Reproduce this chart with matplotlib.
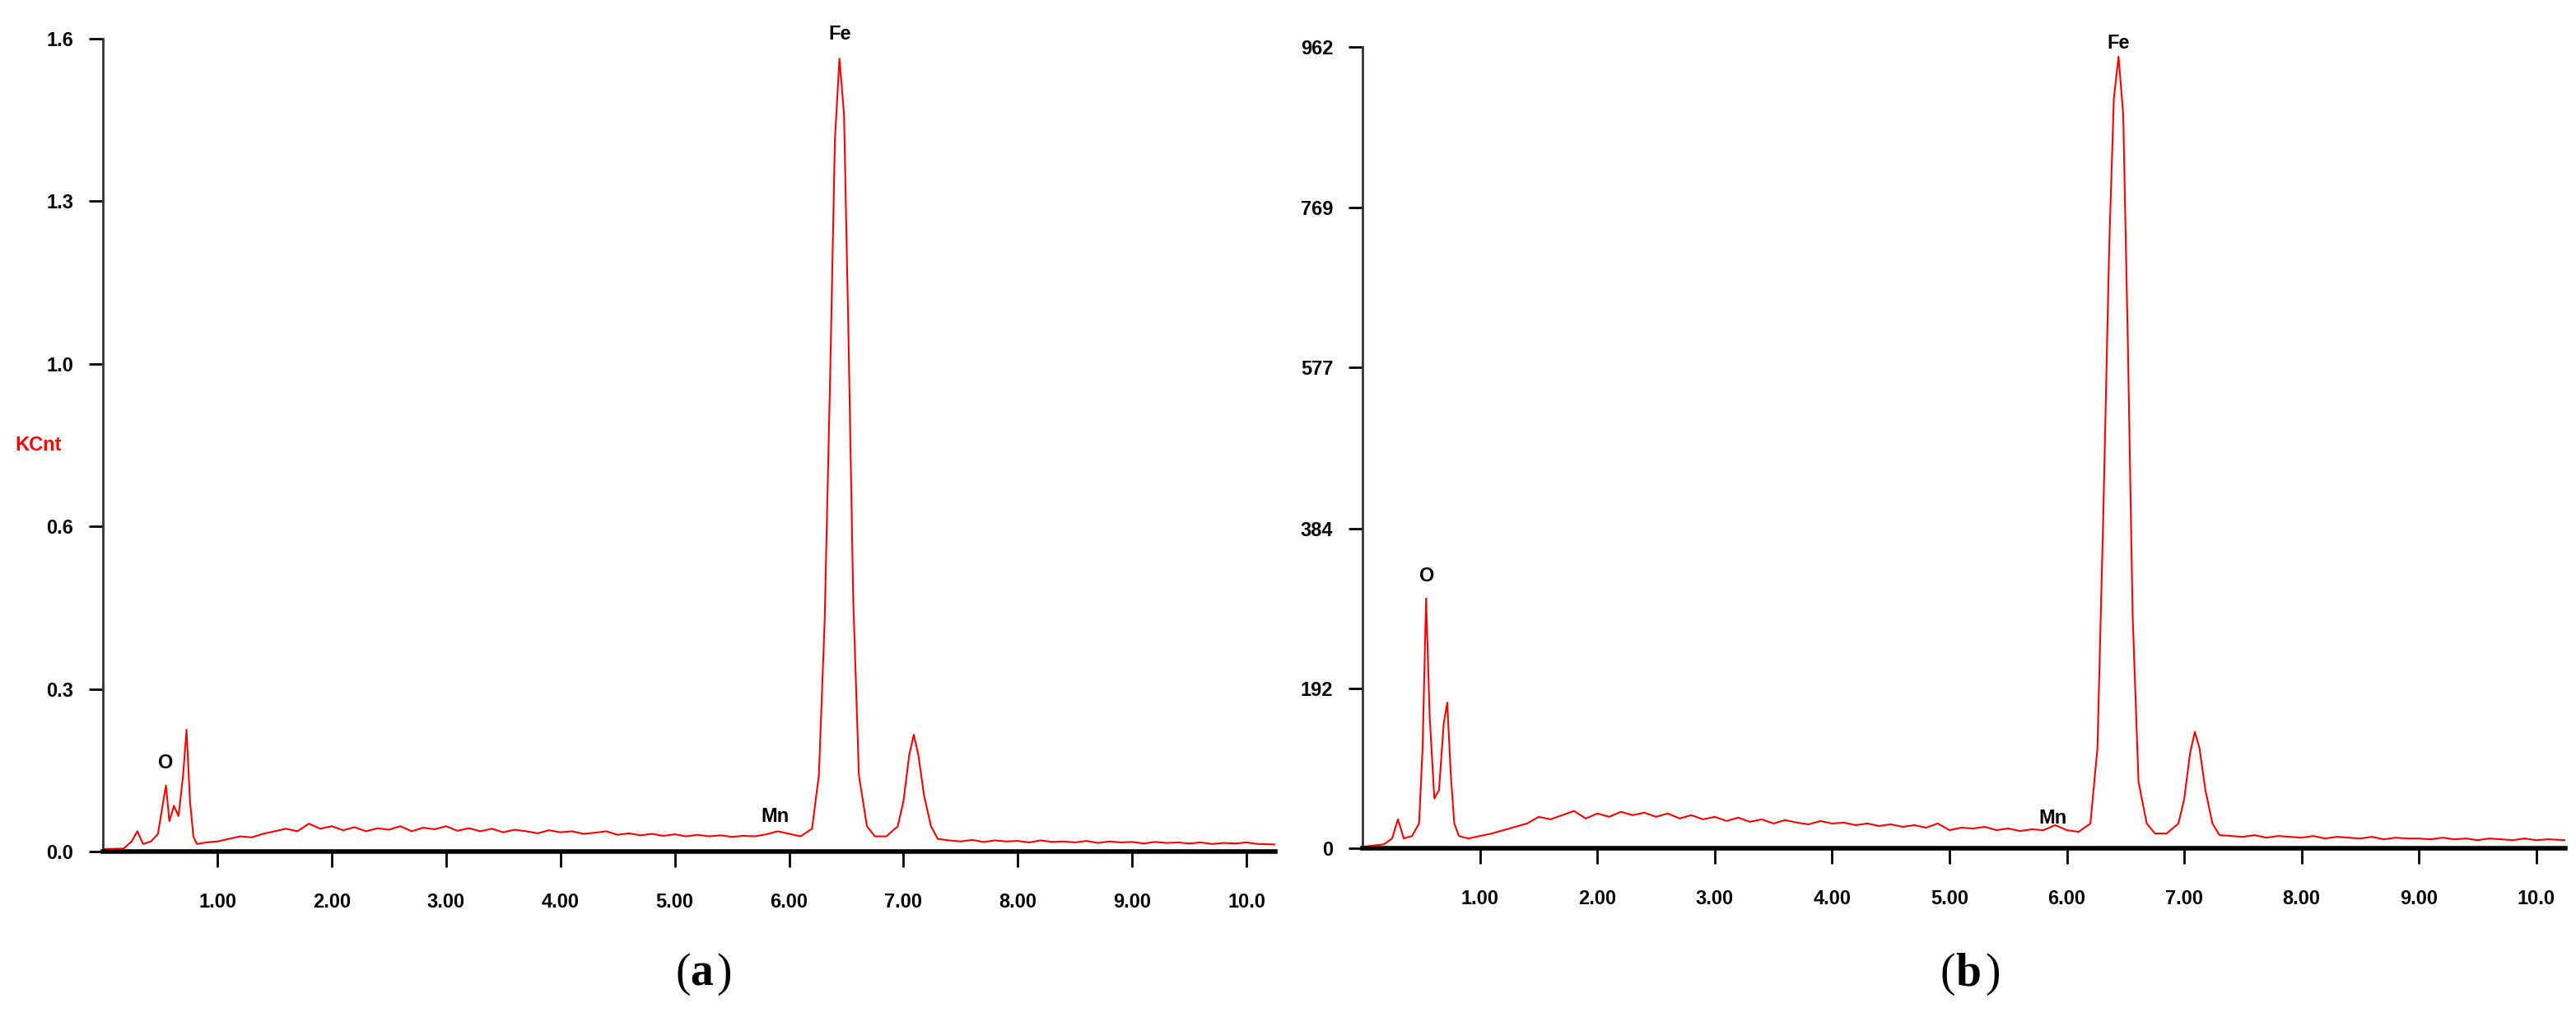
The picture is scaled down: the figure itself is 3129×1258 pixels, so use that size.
import matplotlib.pyplot as plt
import numpy as np

# spectrum (a): energy (keV) and KCnt
energy_a = [0.00, 0.18, 0.25, 0.30, 0.35, 0.42, 0.48, 0.52, 0.55, 0.58, 0.62, 0.66, 0.70, 0.73, 0.76, 0.79, 0.82,
            0.90, 1.00, 1.10, 1.20, 1.30, 1.40, 1.50, 1.60, 1.70, 1.80, 1.90, 2.00, 2.10, 2.20, 2.30, 2.40, 2.50,
            2.60, 2.70, 2.80, 2.90, 3.00, 3.10, 3.20, 3.30, 3.40, 3.50, 3.60, 3.70, 3.80, 3.90, 4.00, 4.10, 4.20,
            4.30, 4.40, 4.50, 4.60, 4.70, 4.80, 4.90, 5.00, 5.10, 5.20, 5.30, 5.40, 5.50, 5.60, 5.70, 5.80, 5.90,
            6.00, 6.10, 6.20, 6.26, 6.31, 6.36, 6.40, 6.44, 6.48, 6.52, 6.56, 6.61, 6.68, 6.75, 6.85, 6.95, 7.00,
            7.05, 7.09, 7.13, 7.18, 7.24, 7.30, 7.40, 7.50, 7.60, 7.70, 7.80, 7.90, 8.00, 8.10, 8.20, 8.30, 8.40,
            8.50, 8.60, 8.70, 8.80, 8.90, 9.00, 9.10, 9.20, 9.30, 9.40, 9.50, 9.60, 9.70, 9.80, 9.90, 10.00,
            10.10, 10.25]
kcnt_a = [0.005, 0.006, 0.02, 0.04, 0.015, 0.02, 0.035, 0.09, 0.13, 0.06, 0.09, 0.07, 0.15, 0.24, 0.10, 0.03, 0.015,
          0.018, 0.02, 0.025, 0.03, 0.028, 0.035, 0.04, 0.045, 0.04, 0.055, 0.045, 0.05, 0.042, 0.048, 0.04, 0.046, 0.043,
          0.05, 0.04, 0.047, 0.044, 0.05, 0.041, 0.046, 0.04, 0.045, 0.038, 0.043, 0.04, 0.036, 0.042, 0.038, 0.04, 0.035,
          0.037, 0.04, 0.033, 0.036, 0.032, 0.035, 0.031, 0.034, 0.03, 0.033, 0.03, 0.032, 0.029, 0.031, 0.03, 0.034, 0.04,
          0.035, 0.03, 0.045, 0.15, 0.45, 0.95, 1.40, 1.56, 1.45, 1.00, 0.50, 0.15, 0.05, 0.03, 0.03, 0.05, 0.10,
          0.19, 0.23, 0.19, 0.11, 0.05, 0.025, 0.022, 0.02, 0.023, 0.019, 0.022, 0.02, 0.021, 0.018, 0.022, 0.019, 0.02,
          0.018, 0.021, 0.017, 0.02, 0.018, 0.019, 0.016, 0.019, 0.017, 0.018, 0.016, 0.018, 0.015, 0.017, 0.016, 0.018,
          0.015, 0.014]

# spectrum (b): energy (keV) and counts
energy_b = [0.00, 0.18, 0.25, 0.30, 0.35, 0.42, 0.48, 0.51, 0.54, 0.57, 0.61, 0.65, 0.69, 0.72, 0.75, 0.78, 0.82,
            0.90, 1.00, 1.10, 1.20, 1.30, 1.40, 1.50, 1.60, 1.70, 1.80, 1.90, 2.00, 2.10, 2.20, 2.30, 2.40, 2.50,
            2.60, 2.70, 2.80, 2.90, 3.00, 3.10, 3.20, 3.30, 3.40, 3.50, 3.60, 3.70, 3.80, 3.90, 4.00, 4.10, 4.20,
            4.30, 4.40, 4.50, 4.60, 4.70, 4.80, 4.90, 5.00, 5.10, 5.20, 5.30, 5.40, 5.50, 5.60, 5.70, 5.80, 5.90,
            6.00, 6.10, 6.20, 6.26, 6.31, 6.36, 6.40, 6.44, 6.48, 6.52, 6.56, 6.61, 6.68, 6.75, 6.85, 6.95, 7.00,
            7.05, 7.09, 7.13, 7.18, 7.24, 7.30, 7.40, 7.50, 7.60, 7.70, 7.80, 7.90, 8.00, 8.10, 8.20, 8.30, 8.40,
            8.50, 8.60, 8.70, 8.80, 8.90, 9.00, 9.10, 9.20, 9.30, 9.40, 9.50, 9.60, 9.70, 9.80, 9.90, 10.00,
            10.10, 10.25]
counts_b = [2, 5, 12, 35, 12, 15, 30, 120, 300, 160, 60, 70, 150, 175, 90, 30, 15,
            12, 15, 18, 22, 26, 30, 38, 35, 40, 45, 36, 42, 38, 44, 40, 43, 38,
            42, 36, 40, 35, 38, 33, 37, 32, 35, 30, 34, 31, 29, 33, 30, 31, 28,
            30, 27, 29, 26, 28, 25, 30, 22, 25, 24, 26, 22, 24, 21, 23, 22, 28,
            22, 20, 30, 120, 400, 720, 900, 950, 880, 600, 280, 80, 30, 18, 18, 30, 60,
            115, 140, 120, 70, 30, 16, 15, 14, 16, 13, 15, 14, 13, 15, 12, 14, 13,
            12, 14, 11, 13, 12, 12, 11, 13, 11, 12, 10, 12, 11, 10, 12, 10,
            11, 10]

xticks = [1, 2, 3, 4, 5, 6, 7, 8, 9, 10]
xtick_labels = ["1.00", "2.00", "3.00", "4.00", "5.00", "6.00", "7.00", "8.00", "9.00", "10.0"]
yticks_a = [0, 0.32, 0.64, 0.96, 1.28, 1.60]
ytick_labels_a = ["0.0", "0.3", "0.6", "1.0", "1.3", "1.6"]
yticks_b = [0, 192, 384, 577, 769, 962]
ytick_labels_b = ["0", "192", "384", "577", "769", "962"]

plt.rcParams['font.family'] = ['Liberation Sans', 'DejaVu Sans']

fig = plt.figure(figsize=(31.29, 12.58), dpi=100)
ax1 = fig.add_axes([0.040, 0.178, 0.455, 0.785])
ax2 = fig.add_axes([0.529, 0.181, 0.467, 0.774])

def style(ax, yticks, ylabels, ymax):
    ax.set_xlim(0, 10.25)
    ax.set_ylim(0, ymax)
    for s in ['top', 'right']:
        ax.spines[s].set_visible(False)
    ax.spines['bottom'].set_linewidth(4)
    ax.spines['left'].set_linewidth(2)
    ax.spines['left'].set_color('#333333')
    ax.set_xticks(xticks)
    ax.set_xticklabels(xtick_labels, fontsize=17, fontweight='bold')
    ax.set_yticks(yticks)
    ax.set_yticklabels(ylabels, fontsize=17, fontweight='bold')
    ax.tick_params(axis='x', direction='out', length=14, width=2, pad=22)
    ax.tick_params(axis='y', direction='out', length=12, width=2, pad=14)

ax1.plot(energy_a, kcnt_a, color='red', lw=1.5)
style(ax1, yticks_a, ytick_labels_a, 1.6)
ax1.text(-0.055, 0.50, "KCnt", transform=ax1.transAxes, color='red', fontsize=17,
         fontweight='bold', ha='center', va='center')
ax1.text(0.55, 0.155, "O", fontsize=17, fontweight='bold', ha='center', va='bottom')
ax1.text(5.88, 0.05, "Mn", fontsize=17, fontweight='bold', ha='center', va='bottom')
ax1.text(6.44, 1.59, "Fe", fontsize=17, fontweight='bold', ha='center', va='bottom')
fig.text(0.268, 0.06, "(", fontsize=40, family='Liberation Serif', ha='right', va='center')
fig.text(0.268, 0.06, "a", fontsize=40, family='Liberation Serif', fontweight='bold', ha='left', va='center')
fig.text(0.278, 0.06, ")", fontsize=40, family='Liberation Serif', ha='left', va='center')

ax2.plot(energy_b, counts_b, color='red', lw=1.5)
style(ax2, yticks_b, ytick_labels_b, 962)
ax2.text(0.55, 315, "O", fontsize=17, fontweight='bold', ha='center', va='bottom')
ax2.text(5.88, 25, "Mn", fontsize=17, fontweight='bold', ha='center', va='bottom')
ax2.text(6.44, 955, "Fe", fontsize=17, fontweight='bold', ha='center', va='bottom')
fig.text(0.759, 0.06, "(", fontsize=40, family='Liberation Serif', ha='right', va='center')
fig.text(0.759, 0.06, "b", fontsize=40, family='Liberation Serif', fontweight='bold', ha='left', va='center')
fig.text(0.7705, 0.06, ")", fontsize=40, family='Liberation Serif', ha='left', va='center')

fig.savefig("out.png", dpi=100)
